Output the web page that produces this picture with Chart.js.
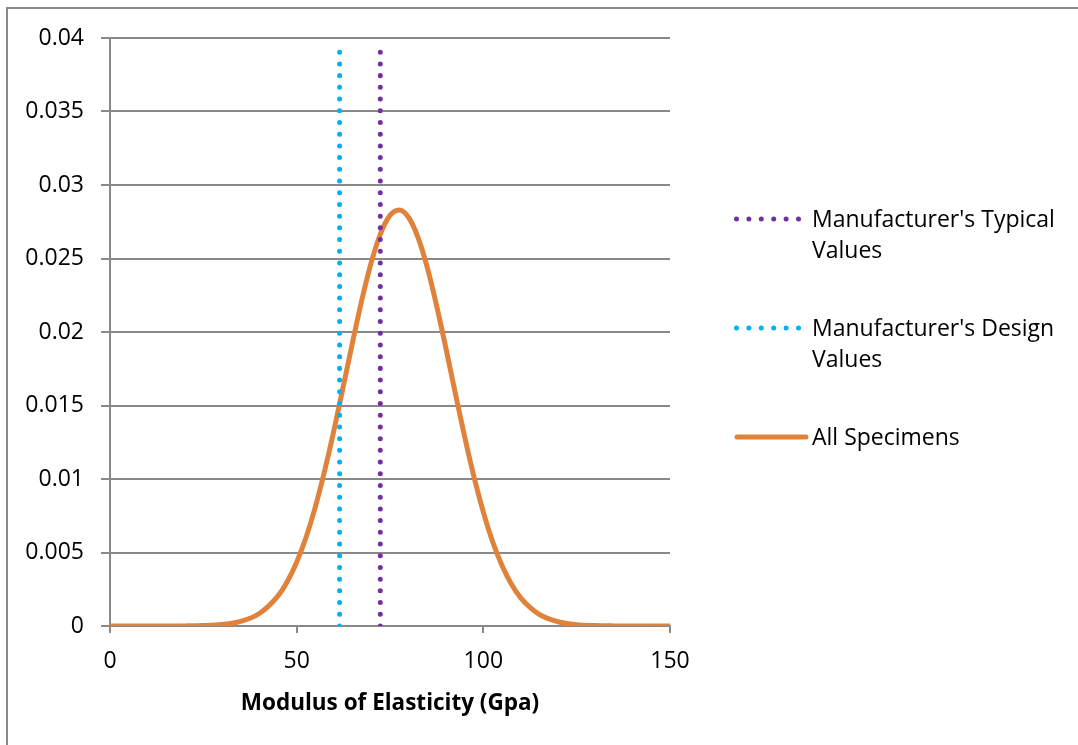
<!DOCTYPE html>
<html>
<head>
<meta charset="utf-8">
<script src="https://cdn.jsdelivr.net/npm/chart.js@4.4.1/dist/chart.umd.min.js"></script>
<style>
  html, body { margin: 0; padding: 0; background: #fff; }
  #wrap { position: relative; width: 1078px; height: 745px; overflow: hidden; }
  #legend { position: absolute; left: 0; top: 0; font-family: "Open Sans", sans-serif; font-size: 23px; color: #000; }
  .item { position: absolute; left: 734px; }
  .item svg { position: absolute; left: 0; top: 0; }
  .item .txt { position: absolute; left: 78px; top: 0; line-height: 31px; white-space: nowrap; }
</style>
</head>
<body>
<div id="wrap">
  <canvas id="chart" width="1078" height="745"></canvas>
  <div id="legend">
    <div class="item" style="top:203px">
      <svg width="70" height="31"><line x1="2.5" y1="16" x2="66" y2="16" stroke="#7030A0" stroke-width="5" stroke-linecap="round" stroke-dasharray="0 12.4"/></svg>
      <div class="txt">Manufacturer's Typical<br>Values</div>
    </div>
    <div class="item" style="top:312px">
      <svg width="70" height="31"><line x1="2.5" y1="16" x2="66" y2="16" stroke="#00B0F0" stroke-width="5" stroke-linecap="round" stroke-dasharray="0 12.4"/></svg>
      <div class="txt">Manufacturer's Design<br>Values</div>
    </div>
    <div class="item" style="top:421px">
      <svg width="76" height="31"><line x1="3" y1="16" x2="72" y2="16" stroke="#E0823A" stroke-width="5" stroke-linecap="round"/></svg>
      <div class="txt">All Specimens</div>
    </div>
  </div>
</div>
<script>
// values
const specimenX = [0, 5, 10, 15, 20, 25, 30, 35, 40, 45, 47.5, 50, 52.5, 55, 57.5, 60, 62.5, 65, 67.5, 70, 72.5, 75, 77.5,
  80, 82.5, 85, 87.5, 90, 92.5, 95, 97.5, 100, 102.5, 105, 107.5, 110, 115, 120, 125, 130, 135, 140, 145, 150];
const specimenY = [0, 0, 0.0000003, 0.0000016, 0.0000073, 0.000029, 0.0001, 0.00031, 0.00085, 0.00205, 0.00303, 0.00434,
  0.00602, 0.0081, 0.01056, 0.01333, 0.01631, 0.01934, 0.02223, 0.02475, 0.02671, 0.02793, 0.0283,
  0.02779, 0.02644, 0.02438, 0.02178, 0.01887, 0.01583, 0.01287, 0.01014, 0.00775, 0.00573, 0.00411,
  0.00285, 0.00192, 0.00079, 0.00029, 0.00009, 0.000026, 0.0000065, 0, 0, 0];

const typicalX = [72.4, 72.4];
const designX = [61.5, 61.5];
const markerY = [0, 0.0395];

const xTicks = [0, 50, 100, 150];

function pts(xs, ys) {
  return xs.map((x, i) => ({ x: x, y: ys[i] }));
}

const gridColor = '#898989';
const font = { family: '"Open Sans", sans-serif', size: 23 };

// border of the chart box (only top and left fall inside the window)
const frame = {
  id: 'frame',
  afterDraw(chart) {
    const ctx = chart.ctx;
    ctx.save();
    ctx.strokeStyle = '#8a8a8a';
    ctx.lineWidth = 2;
    ctx.strokeRect(7, 8, 1200, 900);
    ctx.restore();
  }
};

new Chart(document.getElementById('chart'), {
  type: 'line',
  data: {
    datasets: [
      {
        label: "Manufacturer's Typical Values",
        data: pts(typicalX, markerY),
        borderColor: '#7030A0',
        borderWidth: 5,
        borderDash: [0.01, 11.7],
        borderCapStyle: 'round',
        pointRadius: 0
      },
      {
        label: "Manufacturer's Design Values",
        data: pts(designX, markerY),
        borderColor: '#00B0F0',
        borderWidth: 5,
        borderDash: [0.01, 11.7],
        borderCapStyle: 'round',
        pointRadius: 0
      },
      {
        label: 'All Specimens',
        data: pts(specimenX, specimenY),
        borderColor: '#E0823A',
        borderWidth: 5,
        tension: 0.4,
        cubicInterpolationMode: 'monotone',
        pointRadius: 0
      }
    ]
  },
  options: {
    responsive: false,
    animation: false,
    layout: { padding: { left: 0, right: 408, top: 38, bottom: 0 } },
    plugins: { legend: { display: false }, tooltip: { enabled: false } },
    scales: {
      x: {
        type: 'linear',
        min: 0,
        max: 150,
        afterBuildTicks: (axis) => { axis.ticks = xTicks.map(v => ({ value: v })); },
        afterFit: (axis) => { axis.height = 119; },
        grid: { drawOnChartArea: false, drawTicks: true, tickLength: 7, color: gridColor, lineWidth: 2 },
        border: { color: gridColor, width: 2 },
        ticks: { color: '#000', font: font, padding: 15, maxRotation: 0 },
        title: {
          display: true,
          text: 'Modulus of Elasticity (Gpa)',
          color: '#000',
          font: { family: '"Open Sans", sans-serif', size: 22.5, weight: 'bold' },
          padding: { top: 0, bottom: 28 }
        }
      },
      y: {
        min: 0,
        max: 0.04,
        afterFit: (axis) => { axis.width = 110; },
        grid: { color: gridColor, lineWidth: 2, tickLength: 9 },
        border: { color: gridColor, width: 2 },
        ticks: {
          stepSize: 0.005,
          color: '#000',
          font: font,
          padding: 17,
          callback: (v) => String(+v.toFixed(3))
        }
      }
    }
  },
  plugins: [frame]
});
</script>
</body>
</html>
